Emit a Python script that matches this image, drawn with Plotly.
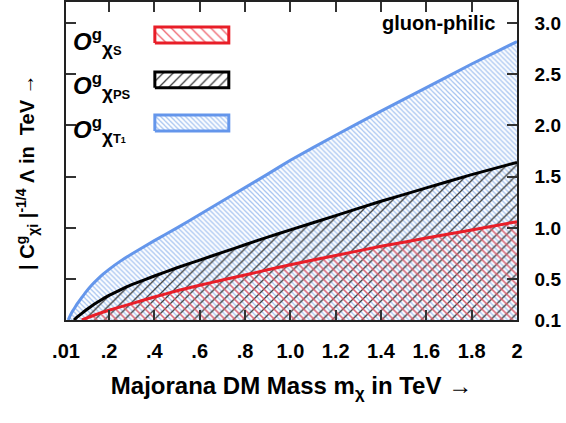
import plotly.graph_objects as go

# ---------------- data ----------------
m_T1 = [0.02, 0.03, 0.04, 0.05, 0.06, 0.08, 0.10, 0.125, 0.15, 0.175, 0.2, 0.25, 0.3,
        0.4, 0.5, 0.6, 0.7, 0.8, 0.9, 1.0, 1.2, 1.4, 1.6, 1.8, 2.0]
lam_T1 = [0.10, 0.15, 0.19, 0.225, 0.26, 0.32, 0.38, 0.445, 0.50, 0.55, 0.595, 0.675, 0.745,
          0.875, 1.0, 1.13, 1.262, 1.393, 1.525, 1.66, 1.905, 2.14, 2.37, 2.60, 2.82]

m_PS = [0.045, 0.06, 0.08, 0.1, 0.125, 0.15, 0.2, 0.25, 0.3, 0.4, 0.5, 0.6, 0.7, 0.8, 0.9,
        1.0, 1.2, 1.4, 1.6, 1.8, 2.0]
lam_PS = [0.10, 0.13, 0.165, 0.20, 0.24, 0.275, 0.34, 0.395, 0.445, 0.53, 0.61, 0.685, 0.76, 0.835, 0.91,
          0.98, 1.12, 1.26, 1.39, 1.52, 1.64]

m_S = [0.08, 0.1, 0.15, 0.2, 0.3, 0.4, 0.5, 0.6, 0.7, 0.8, 0.9, 1.0, 1.2, 1.4, 1.6, 1.8, 2.0]
lam_S = [0.10, 0.118, 0.16, 0.195, 0.26, 0.325, 0.385, 0.44, 0.49, 0.54, 0.59, 0.64,
         0.73, 0.82, 0.90, 0.98, 1.06]

x_tickvals = [0.01, 0.2, 0.4, 0.6, 0.8, 1.0, 1.2, 1.4, 1.6, 1.8, 2.0]
x_ticktext = [".01", ".2", ".4", ".6", ".8", "1.0", "1.2", "1.4", "1.6", "1.8", "2"]
y_tickvals = [0.1, 0.5, 1.0, 1.5, 2.0, 2.5, 3.0]
y_ticktext = ["0.1", "0.5", "1.0", "1.5", "2.0", "2.5", "3.0"]

legend_labels = [
    "<b><i>O</i><sup>g</sup><sub><span style='font-size:19px'>χ</span><span style='font-size:13px'>S</span></sub></b>",
    "<b><i>O</i><sup>g</sup><sub><span style='font-size:19px'>χ</span><span style='font-size:13px'>PS</span></sub></b>",
    "<b><i>O</i><sup>g</sup><sub><span style='font-size:19px'>χ</span><span style='font-size:13px'>T</span><span style='font-size:9px'>1</span></sub></b>",
]

# ---------------- styles ----------------
FONT = "Liberation Sans, Arial, sans-serif"
BLUE = "rgb(100,150,235)"
BLUE_H = "rgb(165,195,240)"
RED = "rgb(232,30,40)"
RED_H = "rgb(238,95,105)"
BLACK = "rgb(0,0,0)"
BLACK_H = "rgb(60,60,60)"
CLEAR = "rgba(0,0,0,0)"

styles = [
    dict(x=m_T1, y=lam_T1, line=BLUE, hatch=BLUE_H, shape="\\", size=3.5, sol=0.35),
    dict(x=m_PS, y=lam_PS, line=BLACK, hatch=BLACK_H, shape="/", size=7, sol=0.18),
    dict(x=m_S, y=lam_S, line=RED, hatch=RED_H, shape="\\", size=7, sol=0.18),
]

fig = go.Figure()
for s in styles:
    fig.add_trace(go.Scatter(
        x=s["x"], y=s["y"], mode="lines",
        line=dict(color=s["line"], width=3, shape="spline", smoothing=0.3),
        fill="tozeroy", fillcolor=CLEAR,
        fillpattern=dict(shape=s["shape"], size=s["size"], solidity=s["sol"],
                         fgcolor=s["hatch"], bgcolor=CLEAR, fillmode="replace"),
        showlegend=False, hoverinfo="skip",
    ))

# legend swatches (in plot-fraction coordinates on an overlay axis)
sw_x0, sw_x1 = 0.197, 0.361
sw_rows = [(0.871, 0.921), (0.730, 0.780), (0.594, 0.645)]
sw_styles = [styles[2], styles[1], styles[0]]
for (y0, y1), s in zip(sw_rows, sw_styles):
    fig.add_trace(go.Scatter(
        x=[sw_x0, sw_x1, sw_x1, sw_x0, sw_x0], y=[y0, y0, y1, y1, y0],
        xaxis="x2", yaxis="y2", mode="lines",
        line=dict(color=s["line"], width=3),
        fill="toself", fillcolor=CLEAR,
        fillpattern=dict(shape=s["shape"], size=s["size"], solidity=s["sol"],
                         fgcolor=s["hatch"], bgcolor=CLEAR, fillmode="replace"),
        showlegend=False, hoverinfo="skip",
    ))

label_y = [0.875, 0.735, 0.598]
for lab, yy in zip(legend_labels, label_y):
    fig.add_annotation(text=lab, x=0.012, y=yy, xref="paper", yref="paper",
                       xanchor="left", yanchor="middle", showarrow=False,
                       font=dict(family=FONT, size=24, color="black"))

fig.add_annotation(text="<b>gluon-philic</b>", x=0.956, y=0.934, xref="paper", yref="paper",
                   xanchor="right", yanchor="middle", showarrow=False,
                   font=dict(family=FONT, size=20, color="black"))

fig.add_annotation(text="<b>| C<sup>g</sup><sub>χi</sub> |<sup>-1/4</sup> Λ in  TeV →</b>",
                   x=-0.087, y=0.465, xref="paper", yref="paper", textangle=-90,
                   xanchor="center", yanchor="middle", showarrow=False,
                   font=dict(family=FONT, size=20, color="black"))

fig.update_layout(
    width=566, height=423,
    margin=dict(l=66, r=49, t=2, b=103, autoexpand=False),
    paper_bgcolor="white", plot_bgcolor="white",
    font=dict(family=FONT, color="black"),
    xaxis=dict(range=[0.01, 2.0], tickvals=x_tickvals, ticktext=x_ticktext,
               ticks="inside", ticklen=10, tickwidth=1.5, tickcolor="#333",
               showline=True, linecolor="#222", linewidth=1.5, mirror="ticks",
               showgrid=False, zeroline=False, automargin=False,
               tickfont=dict(family=FONT, size=20, color="black", weight="bold"),
               ticklabelstandoff=12,
               title=dict(text="<b>Majorana DM Mass m<sub>χ</sub> in TeV →</b>",
                          font=dict(family=FONT, size=24, color="black"), standoff=16)),
    yaxis=dict(range=[0.1, 3.206], side="right", tickvals=y_tickvals, ticktext=y_ticktext,
               ticks="inside", ticklen=10, tickwidth=1.5, tickcolor="#333",
               showline=True, linecolor="#222", linewidth=1.5, mirror="ticks",
               showgrid=False, zeroline=False, automargin=False,
               tickfont=dict(family=FONT, size=19, color="black", weight="bold"),
               ticklabelstandoff=12),
    xaxis2=dict(overlaying="x", range=[0, 1], visible=False, fixedrange=True),
    yaxis2=dict(overlaying="y", range=[0, 1], visible=False, fixedrange=True),
)

fig.write_html("out.html", config={"displayModeBar": False},
               post_script="document.body.style.margin='0';")
